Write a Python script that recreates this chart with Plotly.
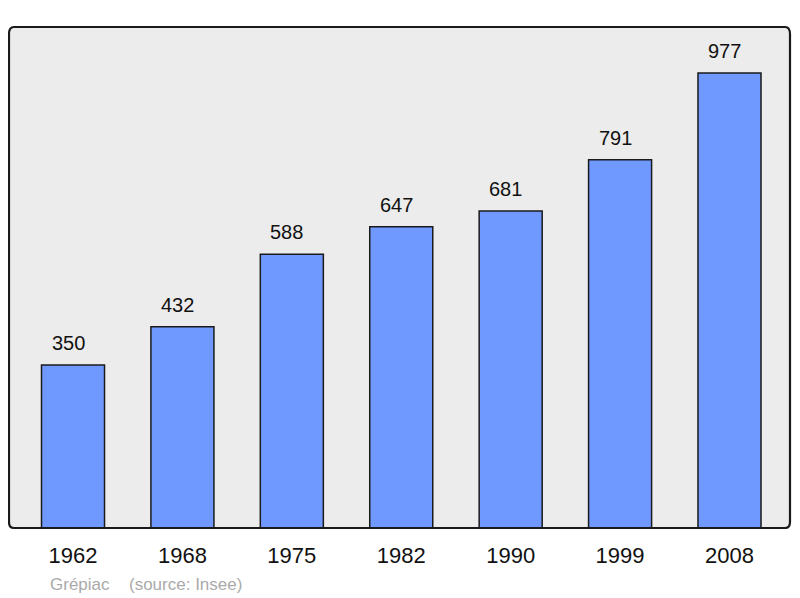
import plotly.graph_objects as go

years = ["1962", "1968", "1975", "1982", "1990", "1999", "2008"]
population = [350, 432, 588, 647, 681, 791, 977]
commune = "Grépiac"
source = "(source: Insee)"

xs = list(range(len(years)))
FONT = "Liberation Sans, Arial, sans-serif"

fig = go.Figure()
fig.add_trace(go.Bar(
    x=xs, y=population, width=0.576,
    marker=dict(color="#7099ff", line=dict(color="#1a1a1a", width=1.5)),
    hoverinfo="skip",
))

for x, v in zip(xs, population):
    fig.add_annotation(x=x, y=v, text=str(v), showarrow=False, yanchor="bottom",
                       yshift=9, xshift=-5, font=dict(family=FONT, size=20, color="#111"))

fig.add_annotation(xref="paper", yref="paper", x=0.050, y=0, yshift=-45, xanchor="left",
                   yanchor="top", text=commune, showarrow=False,
                   font=dict(family=FONT, size=17, color="#aaaaaa"))
fig.add_annotation(xref="paper", yref="paper", x=0.151, y=0, yshift=-45, xanchor="left",
                   yanchor="top", text=source, showarrow=False,
                   font=dict(family=FONT, size=17, color="#aaaaaa"))

# frame with rounded corners
fig.add_shape(type="path", xref="paper", yref="paper",
              path="M 0,0.985 Q 0,1 0.006,1 L 0.994,1 Q 1,1 1,0.985 L 1,0.012 Q 1,0 0.994,0 L 0.006,0 Q 0,0 0,0.012 Z",
              line=dict(color="#1a1a1a", width=2.2), layer="above")

fig.update_layout(
    width=792, height=590,
    margin=dict(l=1, r=10, t=19, b=70),
    paper_bgcolor="white", plot_bgcolor="#ececec",
    showlegend=False,
    xaxis=dict(range=[-0.585, 6.553], tickvals=xs, ticktext=years, showgrid=False,
               zeroline=False, ticks="outside", ticklen=8, tickcolor="rgba(0,0,0,0)",
               tickfont=dict(family=FONT, size=22, color="#111"), fixedrange=True),
    yaxis=dict(range=[0, 1076], showgrid=False, zeroline=False, showticklabels=False, fixedrange=True),
)

fig.write_html("out.html")
